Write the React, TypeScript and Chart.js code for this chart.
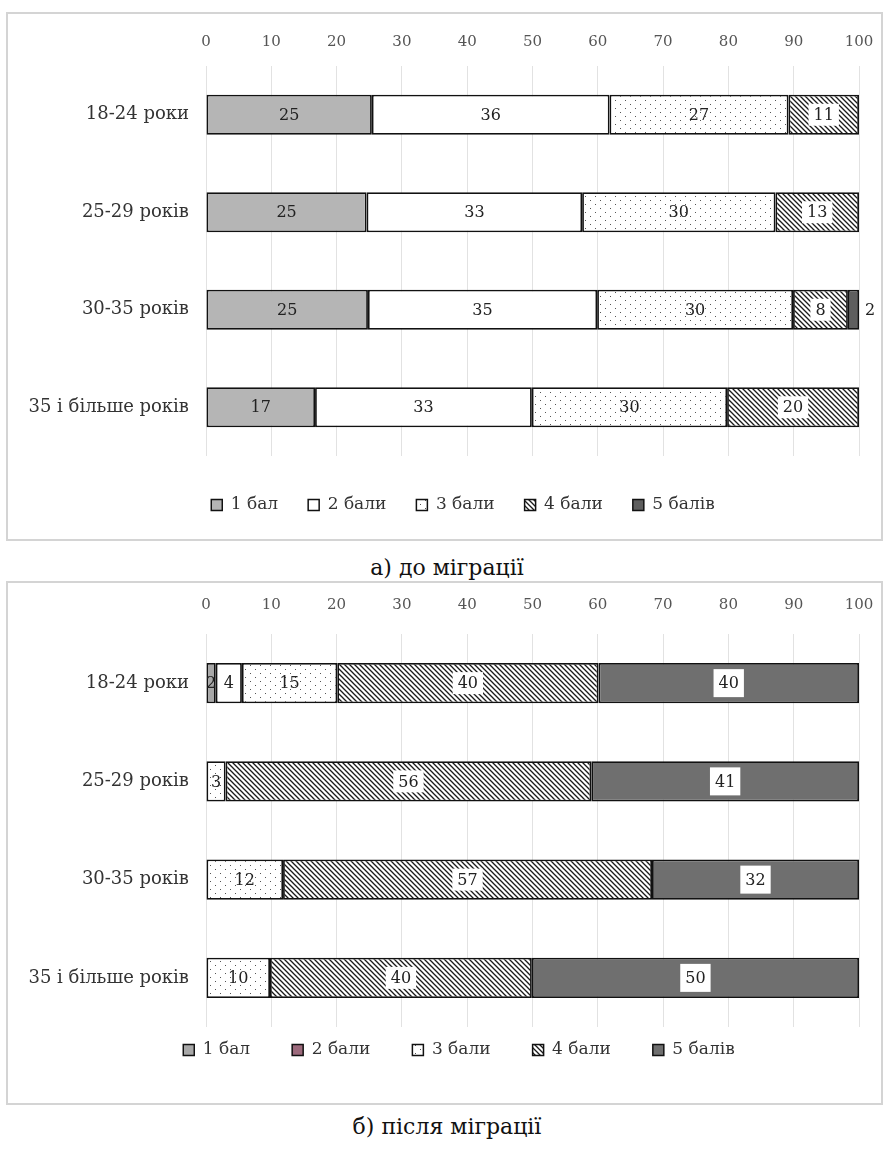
import React, { useEffect, useRef } from "react";
import { Chart, registerables } from "chart.js";
Chart.register(...registerables);

// ---------- data ----------
const categories = ["18-24 роки", "25-29 років", "30-35 років", "35 і більше років"];
const seriesNames = ["1 бал", "2 бали", "3 бали", "4 бали", "5 балів"];
const axisMin = 0;
const axisMax = 100;
const axisStep = 10;

// а) до міграції
const before1 = [25.4, 24.6, 24.8, 16.7];
const before2 = [36.4, 33.0, 35.1, 33.2];
const before3 = [27.4, 29.6, 30.0, 29.9];
const before4 = [10.8, 12.8, 8.4, 20.2];
const before5 = [null, null, 1.7, null];

// б) після міграції
const after1 = [1.5, null, null, null];
const after2 = [4.0, null, null, null];
const after3 = [14.6, 3.0, 11.8, 9.8];
const after4 = [40.0, 56.0, 56.5, 40.1];
const after5 = [39.9, 41.0, 31.7, 50.1];

const captionA = "а) до міграції";
const captionB = "б) після міграції";

const FONT = "DejaVu Serif";

function makeDots(): CanvasPattern {
  const c = document.createElement("canvas");
  c.width = 10;
  c.height = 8;
  const g = c.getContext("2d")!;
  g.fillStyle = "#ffffff";
  g.fillRect(0, 0, 10, 8);
  g.fillStyle = "#555555";
  g.fillRect(2, 2, 1, 1);
  g.fillRect(7, 6, 1, 1);
  return g.createPattern(c, "repeat")!;
}

function makeHatch(): CanvasPattern {
  const s = 5;
  const c = document.createElement("canvas");
  c.width = s;
  c.height = s;
  const g = c.getContext("2d")!;
  g.fillStyle = "#ffffff";
  g.fillRect(0, 0, s, s);
  g.strokeStyle = "#1a1a1a";
  g.lineWidth = 1.3;
  g.beginPath();
  g.moveTo(-1, -1);
  g.lineTo(s + 1, s + 1);
  g.moveTo(-1, s - 1);
  g.lineTo(1, s + 1);
  g.moveTo(s - 1, -1);
  g.lineTo(s + 1, 1);
  g.stroke();
  return g.createPattern(c, "repeat")!;
}

const segLabels = {
  id: "segLabels",
  afterDatasetsDraw(chart: any) {
    const ctx = chart.ctx;
    const n = chart.data.datasets.length;
    ctx.save();
    ctx.font = `16px "${FONT}"`;
    ctx.textBaseline = "middle";
    ctx.textAlign = "center";
    chart.data.datasets.forEach((ds: any, di: number) => {
      const meta = chart.getDatasetMeta(di);
      meta.data.forEach((bar: any, i: number) => {
        const v = ds.data[i];
        if (v == null || v === 0) return;
        const p = bar.getProps(["x", "y", "base"], true);
        const txt = String(Math.round(v));
        const w = ctx.measureText(txt).width;
        const outside = di === n - 1 && v < 3;
        let cx = (p.x + p.base) / 2;
        if (outside) cx = Math.max(p.x, p.base) + 6 + w / 2;
        if (!outside && di >= 3) {
          const h = di === 4 ? 28 : 22;
          ctx.fillStyle = "#ffffff";
          ctx.fillRect(cx - w / 2 - 5, p.y - h / 2, w + 10, h);
        }
        ctx.fillStyle = "#222222";
        ctx.fillText(txt, cx, p.y + 1);
      });
    });
    ctx.restore();
  },
};

const legendPlace = {
  id: "legendPlace",
  beforeLayout(chart: any) {
    const lg: any = chart.legend;
    if (lg && !lg.__patched) {
      const orig = lg.fit.bind(lg);
      lg.fit = function () {
        orig();
        this.height = 0;
      };
      lg.__patched = true;
    }
  },
  afterLayout(chart: any, _a: any, opts: any) {
    const lg: any = chart.legend;
    if (!lg) return;
    const top = opts.centerY - opts.padding - opts.fontSize / 2;
    lg.top = top;
    lg.bottom = opts.centerY + 40;
    const dx = opts.centerX - (lg.left + lg.right) / 2;
    lg.left += dx;
    lg.right += dx;
  },
};

type PanelCfg = {
  data: (number | null)[][];
  c1: string;
  c5: string;
  legend2?: string;
  width: number;
  height: number;
  axisHeight: number;
  tickPad: number;
  padBottom: number;
  legendPad: number;
  legendX: number;
  legendY: number;
};

function Panel({ cfg, left, top }: { cfg: PanelCfg; left: number; top: number }) {
  const ref = useRef<HTMLCanvasElement | null>(null);
  useEffect(() => {
    if (!ref.current) return;
    const dots = makeDots();
    const hatch = makeHatch();
    const fills: any[] = [cfg.c1, "#ffffff", dots, hatch, cfg.c5];
    const legendFills: any[] = [cfg.c1, cfg.legend2 || "#ffffff", dots, hatch, cfg.c5];
    const chart = new Chart(ref.current, {
      type: "bar",
      data: {
        labels: categories,
        datasets: seriesNames.map((name, i) => ({
          label: name,
          data: cfg.data[i] as any,
          backgroundColor: fills[i],
          borderColor: "#111111",
          borderWidth: 1.8,
          borderSkipped: false,
          barPercentage: 0.41,
          categoryPercentage: 1,
          xAxisID: "x",
          yAxisID: "y",
        })),
      },
      options: {
        indexAxis: "y",
        animation: false,
        responsive: false,
        devicePixelRatio: 1,
        layout: { padding: { left: 0, right: 22, top: 0, bottom: cfg.padBottom } },
        scales: {
          x: {
            type: "linear",
            position: "top",
            stacked: true,
            min: axisMin,
            max: axisMax,
            ticks: {
              stepSize: axisStep,
              padding: cfg.tickPad,
              color: "#555555",
              font: { family: FONT, size: 15 },
            },
            grid: { color: "#e2e2e2", lineWidth: 1, drawTicks: false },
            border: { display: false },
            afterFit: (s: any) => {
              s.height = cfg.axisHeight;
              s.paddingLeft = 0;
              s.paddingRight = 0;
            },
          },
          y: {
            type: "category",
            stacked: true,
            ticks: {
              padding: 17,
              color: "#333333",
              font: { family: FONT, size: 18 },
            },
            grid: { display: false, drawTicks: false },
            border: { display: false },
            afterFit: (s: any) => {
              s.width = 198;
            },
          },
        },
        plugins: {
          tooltip: { enabled: false },
          legend: {
            display: true,
            position: "bottom",
            labels: {
              boxWidth: 11,
              boxHeight: 11,
              padding: cfg.legendPad,
              color: "#333333",
              font: { family: FONT, size: 17 },
              generateLabels: (ch: any) => {
                const items = (Chart as any).defaults.plugins.legend.labels.generateLabels(ch);
                items.forEach((it: any, i: number) => {
                  it.fillStyle = legendFills[i];
                  it.strokeStyle = "#111111";
                  it.lineWidth = 1.5;
                });
                return items;
              },
            },
          },
          legendPlace: {
            centerX: cfg.legendX,
            centerY: cfg.legendY,
            padding: cfg.legendPad,
            fontSize: 17,
          },
        } as any,
      },
      plugins: [segLabels, legendPlace],
    } as any);
    return () => chart.destroy();
  }, [cfg]);
  return (
    <div
      style={{
        position: "absolute",
        left,
        top,
        width: cfg.width + 4,
        height: cfg.height + 4,
        border: "2px solid #d4d4d4",
        boxSizing: "border-box",
        background: "#ffffff",
      }}
    >
      <canvas
        ref={ref}
        width={cfg.width}
        height={cfg.height}
        style={{ position: "absolute", left: 0, top: 0, width: cfg.width, height: cfg.height }}
      />
    </div>
  );
}

const cfgA: PanelCfg = {
  data: [before1, before2, before3, before4, before5],
  c1: "#b5b5b5",
  c5: "#5e5e5e",
  width: 873,
  height: 525,
  axisHeight: 52,
  tickPad: 15,
  padBottom: 83,
  legendPad: 30,
  legendX: 455,
  legendY: 491,
};

const cfgB: PanelCfg = {
  data: [after1, after2, after3, after4, after5],
  c1: "#a8a8a8",
  c5: "#6f6f6f",
  legend2: "#9c6a7c",
  width: 873,
  height: 520,
  axisHeight: 51,
  tickPad: 20,
  padBottom: 76,
  legendPad: 42,
  legendX: 451,
  legendY: 467,
};

const captionStyle: React.CSSProperties = {
  position: "absolute",
  left: 0,
  width: 894,
  textAlign: "center",
  fontFamily: FONT,
  fontSize: 22,
  lineHeight: "26px",
  color: "#111111",
};

export default function App() {
  return (
    <div style={{ position: "absolute", left: 0, top: 0, width: 894, height: 1149, background: "#ffffff" }}>
      <Panel cfg={cfgA} left={6} top={12} />
      <div style={{ ...captionStyle, top: 555 }}>{captionA}</div>
      <Panel cfg={cfgB} left={6} top={581} />
      <div style={{ ...captionStyle, top: 1114 }}>{captionB}</div>
    </div>
  );
}
